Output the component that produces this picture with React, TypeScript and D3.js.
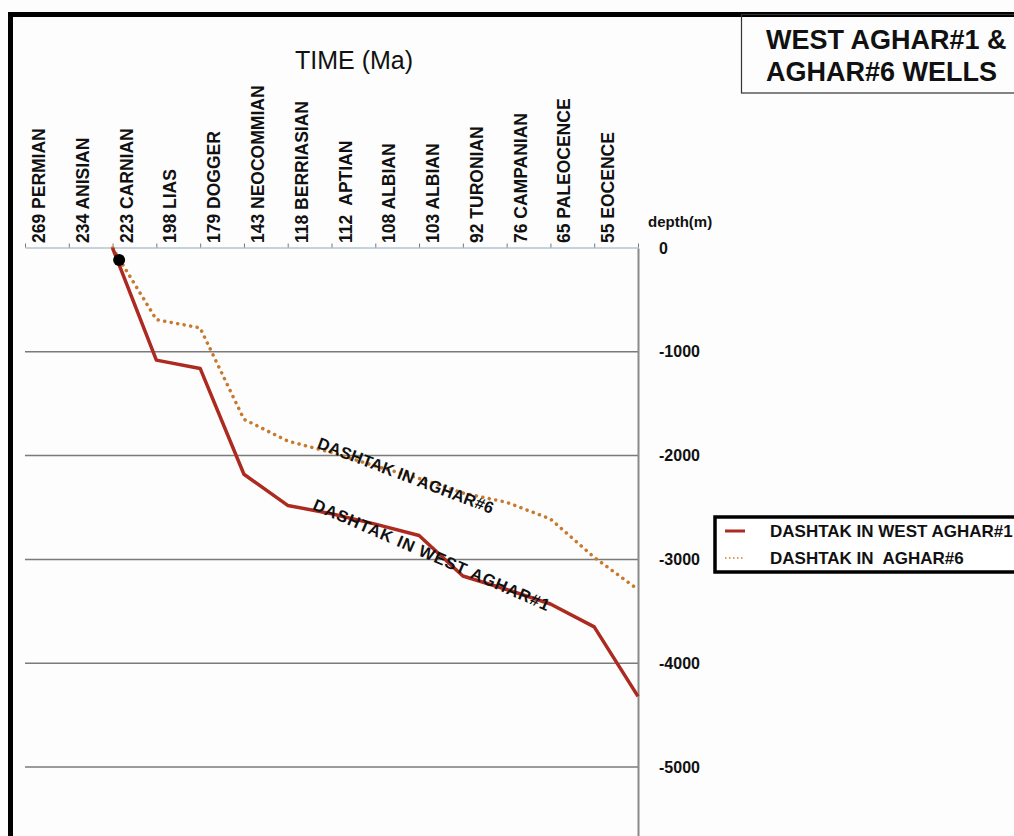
import React, { useEffect, useRef } from 'react'
import * as d3 from 'd3'

// time scale categories (Ma + stage), left to right
const ageLabels = [
  '269 PERMIAN', '234 ANISIAN', '223 CARNIAN', '198 LIAS', '179 DOGGER',
  '143 NEOCOMMIAN', '118 BERRIASIAN', '112  APTIAN', '108 ALBIAN', '103 ALBIAN',
  '92 TURONIAN', '76 CAMPANIAN', '65 PALEOCENCE', '55 EOCENCE'
]
// index of each point on the time axis (14 = present day)
const stepIndex = [2, 3, 4, 5, 6, 7, 8, 9, 10, 11, 12, 13, 14]
const westAghar1 = [0, -1080, -1160, -2180, -2480, -2560, -2660, -2770, -3160, -3290, -3430, -3650, -4320]
const aghar6 = [0, -690, -770, -1650, -1860, -1970, -2100, -2220, -2360, -2450, -2610, -2980, -3290]
const depthTicks = [0, -1000, -2000, -3000, -4000, -5000]
const seriesNames = ['DASHTAK IN WEST AGHAR#1', 'DASHTAK IN  AGHAR#6']

const FONT = '"Liberation Sans", Arial, sans-serif'
const RED = '#ac2a20'
const ORANGE = '#c8792e'

export default function App() {
  const ref = useRef<SVGSVGElement>(null)

  useEffect(() => {
    const svg = d3.select(ref.current)
    svg.selectAll('*').remove()

    const x = d3.scaleLinear().domain([0, 14]).range([25, 638])
    const y = d3.scaleLinear().domain([0, -5700]).range([248, 248 + 5.7 * 103.8])

    // outer frame
    svg.append('rect').attr('x', 10.5).attr('y', 14.5).attr('width', 1100).attr('height', 1000)
      .attr('fill', '#fdfdfd').attr('stroke', '#000').attr('stroke-width', 5)

    // title box
    svg.append('rect').attr('x', 741.5).attr('y', 14.5).attr('width', 400).attr('height', 78.5)
      .attr('fill', 'none').attr('stroke', '#333').attr('stroke-width', 1.2)
    const title = svg.append('g').attr('font-family', FONT).attr('font-weight', 'bold')
      .attr('font-size', 27).attr('fill', '#111')
    title.append('text').attr('x', 766).attr('y', 49).text('WEST AGHAR#1 &')
    title.append('text').attr('x', 766).attr('y', 81).text('AGHAR#6 WELLS')

    svg.append('text').attr('x', 295).attr('y', 69).attr('font-family', FONT)
      .attr('font-size', 25).attr('fill', '#111').text('TIME (Ma)')

    // gridlines
    svg.append('g').selectAll('line')
      .data(depthTicks.filter(d => d !== 0))
      .join('line')
      .attr('x1', x(0)).attr('x2', x(14))
      .attr('y1', d => y(d)).attr('y2', d => y(d))
      .attr('stroke', '#7a7a7a').attr('stroke-width', 1.5)

    // top time axis
    const gx = svg.append('g').attr('transform', `translate(0,${y(0) - 0.5})`)
      .call(d3.axisTop(x).tickValues(d3.range(0, 15)).tickSize(4).tickSizeOuter(0).tickFormat(() => ''))
    gx.select('.domain').attr('stroke', '#c6d3dc').attr('stroke-width', 2)
    gx.selectAll('.tick line').attr('stroke', '#777')

    svg.append('g').selectAll('text')
      .data(ageLabels)
      .join('text')
      .attr('transform', (d, i) => `translate(${x(i) + 20},243) rotate(-90)`)
      .attr('font-family', FONT).attr('font-weight', 'bold').attr('font-size', 17.5)
      .attr('fill', '#111').style('white-space', 'pre')
      .text(d => d)

    // right depth axis
    const gy = svg.append('g').attr('transform', `translate(${x(14)},0)`)
      .call(d3.axisRight(y).tickValues(depthTicks).tickSize(0).tickSizeOuter(0).tickPadding(21)
        .tickFormat(d => String(d)))
    gy.select('.domain').attr('stroke', '#8a8a8a').attr('stroke-width', 2)
    gy.selectAll('.tick text').attr('font-family', FONT).attr('font-weight', 'bold')
      .attr('font-size', 16).attr('fill', '#111')

    svg.append('text').attr('x', 648).attr('y', 227).attr('font-family', FONT)
      .attr('font-weight', 'bold').attr('font-size', 15).attr('fill', '#111').text('depth(m)')

    const line = d3.line<number>().x((d, i) => x(stepIndex[i])).y(d => y(d))

    svg.append('path').datum(aghar6)
      .attr('d', line.curve(d3.curveLinear))
      .attr('fill', 'none').attr('stroke', ORANGE).attr('stroke-width', 3.5)
      .attr('stroke-linecap', 'round').attr('stroke-linejoin', 'round').attr('stroke-dasharray', '0.1 6.5')

    svg.append('path').datum(westAghar1)
      .attr('d', line.curve(d3.curveLinear))
      .attr('fill', 'none').attr('stroke', RED).attr('stroke-width', 3.5)
      .attr('stroke-linejoin', 'round')

    // black marker at top of the curves
    svg.append('circle').attr('cx', x(2.15)).attr('cy', y(-115)).attr('r', 6).attr('fill', '#000')

    // labels along the curves
    const onLine = [
      { text: 'DASHTAK IN AGHAR#6', at: 6.65, depth: -1925, angle: 20.7, len: 187 },
      { text: 'DASHTAK IN WEST AGHAR#1', at: 6.55, depth: -2515, angle: 23.5, len: 256 }
    ]
    svg.append('g').selectAll('text').data(onLine).join('text')
      .attr('transform', d => `translate(${x(d.at)},${y(d.depth)}) rotate(${d.angle})`)
      .attr('font-family', FONT).attr('font-weight', 'bold').attr('font-size', 16.5)
      .attr('fill', '#111').attr('textLength', d => d.len).attr('lengthAdjust', 'spacing')
      .text(d => d.text)

    // legend
    const lg = svg.append('g')
    lg.append('rect').attr('x', 715).attr('y', 517).attr('width', 400).attr('height', 55)
      .attr('fill', '#fff').attr('stroke', '#000').attr('stroke-width', 3.5)
    const rows = [
      { color: RED, dash: null, yy: 531 },
      { color: '#e09a58', dash: '1.5 2.5', yy: 558 }
    ]
    lg.selectAll('line').data(rows).join('line')
      .attr('x1', 725).attr('x2', 745).attr('y1', d => d.yy).attr('y2', d => d.yy)
      .attr('stroke', d => d.color).attr('stroke-width', d => d.dash ? 2 : 3)
      .attr('stroke-dasharray', d => d.dash)
    lg.selectAll('text').data(seriesNames).join('text')
      .attr('x', 770).attr('y', (d, i) => rows[i].yy + 6)
      .attr('font-family', FONT).attr('font-weight', 'bold').attr('font-size', 17)
      .attr('fill', '#111').style('white-space', 'pre')
      .text(d => d)
  }, [])

  return (
    <svg ref={ref} width={1014} height={836}
      style={{ position: 'absolute', left: 0, top: 0, background: '#fdfdfd' }} />
  )
}
